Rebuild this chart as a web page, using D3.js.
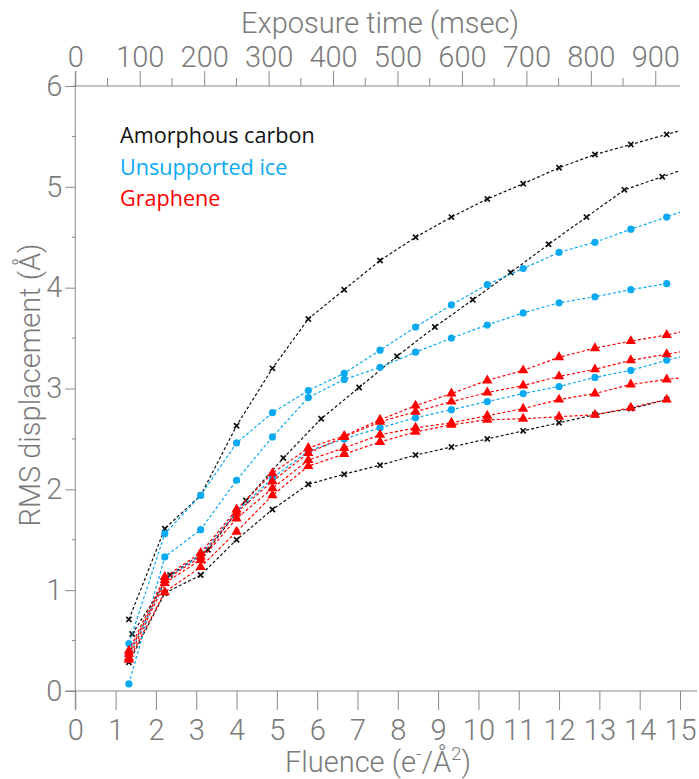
<!DOCTYPE html>
<html>
<head>
<meta charset="utf-8">
<script src="https://cdn.jsdelivr.net/npm/d3@7"></script>
<style>
  body { margin: 0; background: #fff; }
  .axis text { font-family: Roboto, sans-serif; font-weight: 300; fill: #7a7a7a; }
  .axis line, .axis path { stroke: #8a8a8a; }
</style>
</head>
<body>
<div id="chart"></div>
<script>
// fluence of each frame (e-/A^2)
var fluence = [1.33, 2.22, 3.11, 4.0, 4.89, 5.78, 6.67, 7.56, 8.44, 9.33, 10.22, 11.11, 12.0, 12.89, 13.78, 14.67, 15.56];
// one carbon set was sampled on a slightly different dose grid
var fluenceB = [1.41, 2.35, 3.29, 4.23, 5.16, 6.10, 7.04, 7.98, 8.92, 9.86, 10.80, 11.74, 12.68, 13.62, 14.56, 15.50];

var carbonA = [0.71, 1.61, 1.94, 2.63, 3.20, 3.69, 3.98, 4.27, 4.50, 4.70, 4.88, 5.03, 5.19, 5.32, 5.42, 5.52, 5.62];
var carbonB = [0.565, 1.15, 1.40, 1.89, 2.31, 2.70, 3.01, 3.32, 3.61, 3.88, 4.15, 4.43, 4.70, 4.97, 5.10, 5.23];
var carbonC = [0.285, 0.97, 1.15, 1.50, 1.80, 2.05, 2.15, 2.24, 2.34, 2.42, 2.50, 2.58, 2.66, 2.74, 2.80, 2.89];

var iceA = [0.47, 1.56, 1.94, 2.46, 2.76, 2.98, 3.15, 3.38, 3.61, 3.83, 4.03, 4.19, 4.35, 4.45, 4.58, 4.70, 4.83];
var iceB = [0.07, 1.33, 1.60, 2.09, 2.52, 2.91, 3.09, 3.21, 3.36, 3.50, 3.63, 3.75, 3.85, 3.91, 3.98, 4.04];
var iceC = [0.35, 1.10, 1.35, 1.78, 2.11, 2.38, 2.50, 2.61, 2.71, 2.79, 2.87, 2.95, 3.02, 3.11, 3.18, 3.28, 3.37];

var grapheneA = [0.40, 1.13, 1.37, 1.80, 2.16, 2.41, 2.53, 2.69, 2.83, 2.95, 3.08, 3.18, 3.31, 3.40, 3.47, 3.53, 3.61];
var grapheneB = [0.37, 1.10, 1.33, 1.77, 2.08, 2.36, 2.52, 2.67, 2.77, 2.87, 2.96, 3.03, 3.12, 3.19, 3.28, 3.34, 3.40];
var grapheneC = [0.33, 1.07, 1.30, 1.71, 2.01, 2.29, 2.41, 2.54, 2.61, 2.66, 2.73, 2.80, 2.89, 2.95, 3.04, 3.09, 3.13];
var grapheneD = [0.31, 0.98, 1.23, 1.58, 1.94, 2.23, 2.35, 2.47, 2.57, 2.64, 2.69, 2.70, 2.72, 2.74, 2.81, 2.89];

var legendNames = ["Amorphous carbon", "Unsupported ice", "Graphene"];
var black = "#111111", blue = "#0aaaf2", red = "#ff0000";

var series = [
  {x: fluence, y: carbonA, color: black, mark: "cross"},
  {x: fluenceB, y: carbonB, color: black, mark: "cross"},
  {x: fluence, y: carbonC, color: black, mark: "cross"},
  {x: fluence, y: iceA, color: blue, mark: "dot"},
  {x: fluence, y: iceB, color: blue, mark: "dot"},
  {x: fluence, y: iceC, color: blue, mark: "dot"},
  {x: fluence, y: grapheneA, color: red, mark: "tri"},
  {x: fluence, y: grapheneB, color: red, mark: "tri"},
  {x: fluence, y: grapheneC, color: red, mark: "tri"},
  {x: fluence, y: grapheneD, color: red, mark: "tri"}
];

var width = 699, height = 779;
var svg = d3.select("#chart").append("svg").attr("width", width).attr("height", height);

var x = d3.scaleLinear().domain([0, 15]).range([75.3, 680]);
var y = d3.scaleLinear().domain([0, 6]).range([691, 86]);
// exposure time axis, 100 ms = 1.6 e-/A^2
var xt = d3.scaleLinear().domain([0, 938.4]).range([75.3, 680]);

var fs = 29;

// bottom axis
var gb = svg.append("g").attr("class", "axis").attr("transform", "translate(0,691)")
  .call(d3.axisBottom(x).tickValues(d3.range(0, 16)).tickSize(19).tickSizeOuter(0).tickPadding(8));
gb.select(".domain").remove();
gb.selectAll("text").style("font-size", fs + "px").attr("dy", "0.75em");
svg.append("line").attr("x1", 65).attr("x2", 697).attr("y1", 691).attr("y2", 691).attr("stroke", "#8a8a8a");

// top axis
var gt = svg.append("g").attr("class", "axis").attr("transform", "translate(0,86)")
  .call(d3.axisTop(xt).tickValues(d3.range(0, 901, 100)).tickSize(15).tickSizeOuter(0).tickPadding(4));
gt.select(".domain").remove();
gt.selectAll("text").style("font-size", fs + "px");
svg.append("g").selectAll("line").data(d3.range(50, 901, 100)).join("line")
  .attr("x1", d => xt(d)).attr("x2", d => xt(d)).attr("y1", 86).attr("y2", 78).attr("stroke", "#8a8a8a");
svg.append("line").attr("x1", 73).attr("x2", 680).attr("y1", 86).attr("y2", 86).attr("stroke", "#8a8a8a");

// left axis
var gl = svg.append("g").attr("class", "axis").attr("transform", "translate(75.3,0)")
  .call(d3.axisLeft(y).ticks(6).tickSize(10).tickSizeOuter(0).tickPadding(3));
gl.selectAll("text").style("font-size", fs + "px");
gl.select(".domain").remove();
svg.append("g").selectAll("line").data([0.5, 1.5, 2.5, 3.5, 4.5, 5.5]).join("line")
  .attr("x1", 72).attr("x2", 75.3).attr("y1", d => y(d)).attr("y2", d => y(d)).attr("stroke", "#8a8a8a");
svg.append("line").attr("x1", 75.3).attr("x2", 75.3).attr("y1", 71).attr("y2", 710).attr("stroke", "#8a8a8a");

// axis titles
function title(sel) {
  return sel.style("font-family", "Roboto, sans-serif").style("font-weight", 300)
    .style("font-size", fs + "px").attr("fill", "#7a7a7a");
}
title(svg.append("text").attr("x", 380).attr("y", 33).attr("text-anchor", "middle"))
  .text("Exposure time (msec)");
var ft = title(svg.append("text").attr("x", 378).attr("y", 772).attr("text-anchor", "middle"));
ft.append("tspan").text("Fluence (e");
ft.append("tspan").attr("dy", -12).style("font-size", "19px").text("-");
ft.append("tspan").attr("dy", 12).text("/\u00c5");
ft.append("tspan").attr("dy", -12).style("font-size", "19px").text("2");
ft.append("tspan").attr("dy", 12).text(")");
title(svg.append("text").attr("transform", "translate(40,385) rotate(-90)").attr("text-anchor", "middle"))
  .text("RMS displacement (\u00c5)");

// data
svg.append("clipPath").attr("id", "plotclip").append("rect")
  .attr("x", 75.3).attr("y", 80).attr("width", 680 - 75.3).attr("height", 620);
var plot = svg.append("g").attr("clip-path", "url(#plotclip)");

var line = d3.line().x(d => x(d[0])).y(d => y(d[1]));
var tri = d3.symbol().type(d3.symbolTriangle).size(46);

series.forEach(function(s) {
  var pts = s.y.map((v, i) => [s.x[i], v]);
  plot.append("path").datum(pts).attr("d", line)
    .attr("fill", "none").attr("stroke", s.color).attr("stroke-width", 1.2)
    .attr("stroke-dasharray", "3,2.2");
  var g = plot.append("g");
  pts.forEach(function(p) {
    var cx = x(p[0]), cy = y(p[1]);
    if (s.mark == "cross") {
      g.append("path").attr("d", "M-2.6,-2.6L2.6,2.6M2.6,-2.6L-2.6,2.6")
        .attr("transform", "translate(" + cx + "," + cy + ")")
        .attr("stroke", s.color).attr("stroke-width", 1.7);
    } else if (s.mark == "dot") {
      g.append("circle").attr("cx", cx).attr("cy", cy).attr("r", 3.6).attr("fill", s.color);
    } else {
      g.append("path").attr("d", tri).attr("transform", "translate(" + cx + "," + cy + ")")
        .attr("fill", s.color);
    }
  });
});

// legend
var legColors = [black, blue, red];
svg.append("g").selectAll("text").data(legendNames).join("text")
  .attr("x", 120).attr("y", (d, i) => 143 + i * 31.5)
  .style("font-family", "'Open Sans', sans-serif").style("font-size", "21.6px")
  .attr("fill", (d, i) => legColors[i])
  .text(d => d);
</script>
</body>
</html>
